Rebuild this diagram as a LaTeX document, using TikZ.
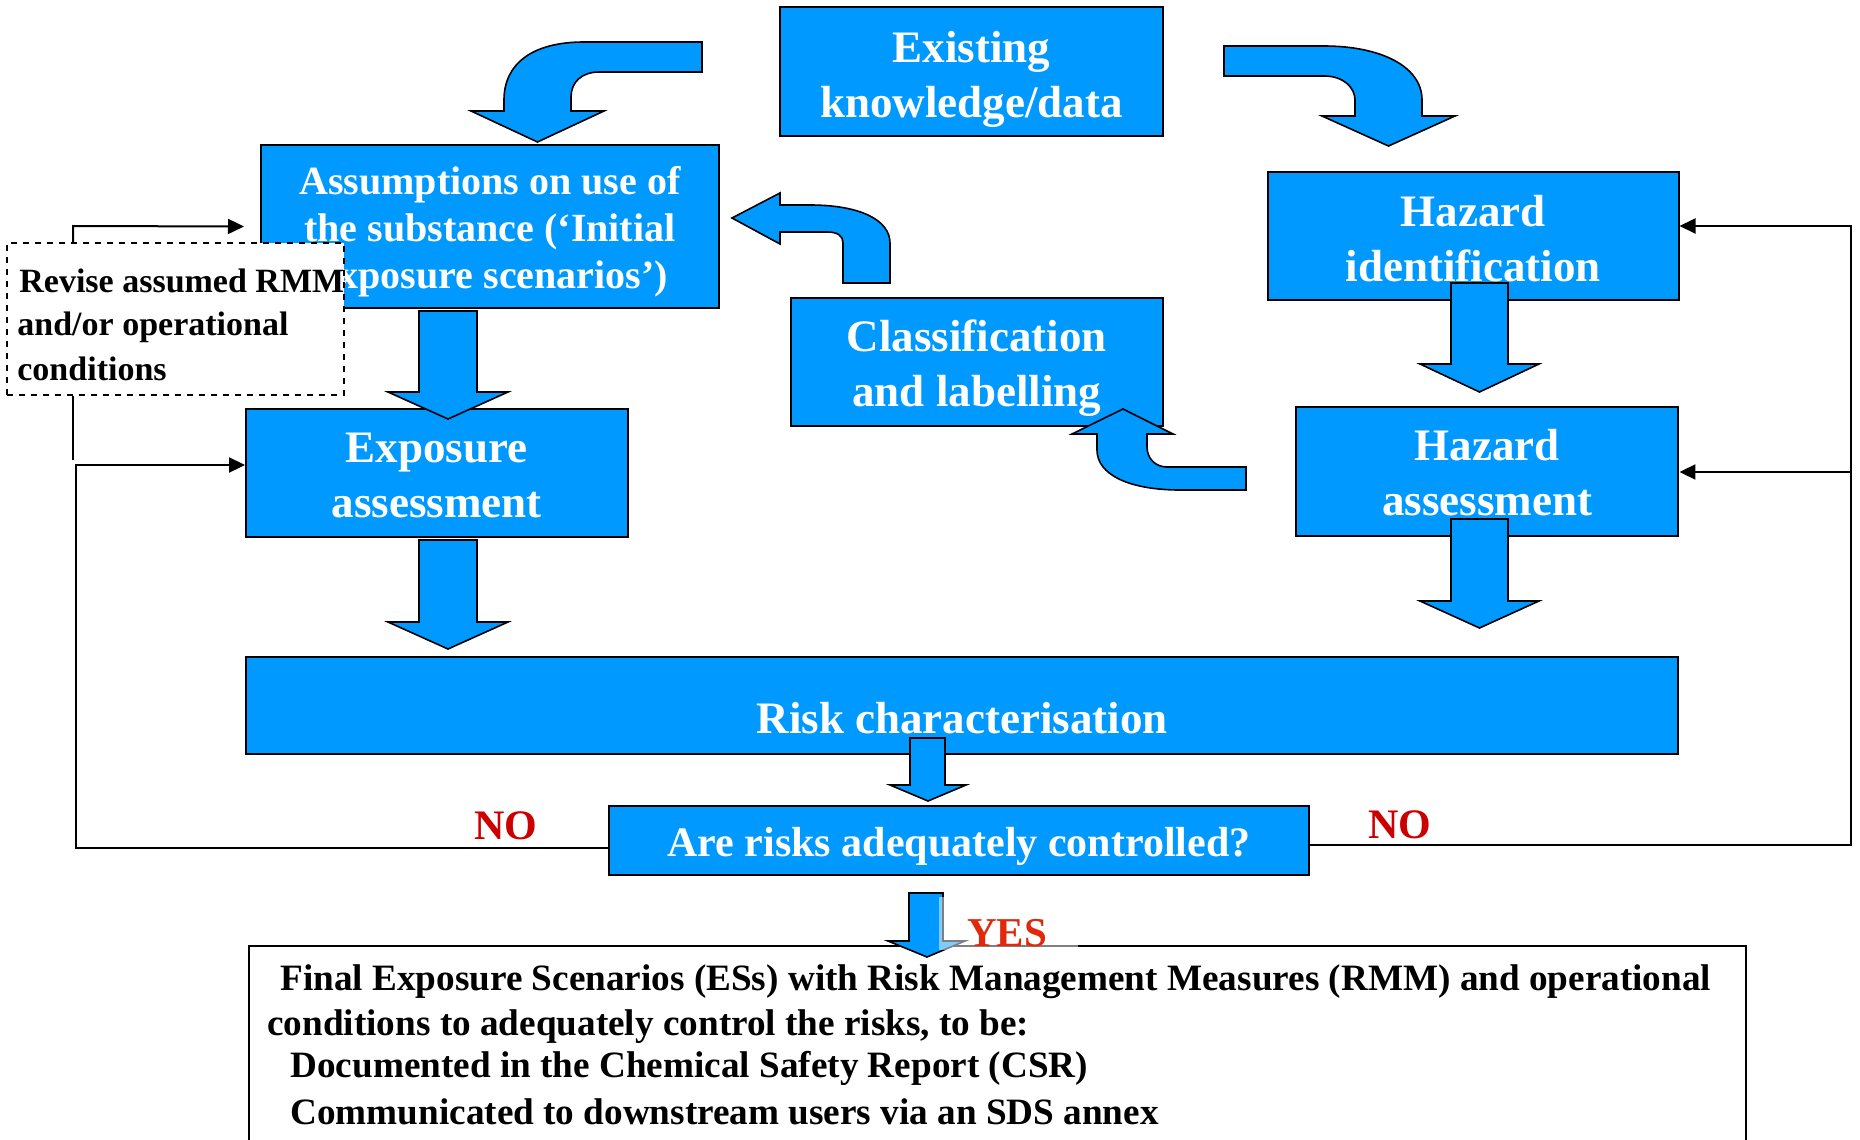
\documentclass[tikz,border=0pt]{standalone}
\usepackage{fontspec}
\setmainfont{Liberation Serif}
\usetikzlibrary{arrows.meta}
\definecolor{boxblue}{HTML}{0099FF}
\definecolor{nored}{HTML}{CC0000}
\definecolor{yesred}{HTML}{E0280C}

\begin{document}
\begin{tikzpicture}
[every node/.style={inner sep=0pt},
 box/.style={rectangle, fill=boxblue, draw=black, line width=1pt, align=center, text=white},
 boxlbl/.style={align=center, text=white},
 bigtxt/.style={font=\fontsize{22.5}{27.5}\selectfont\bfseries},
 revtxt/.style={font=\fontsize{17}{22}\selectfont\bfseries, anchor=base west},
 fintxt/.style={font=\fontsize{18.6}{22}\selectfont\bfseries, anchor=base west},
 blk/.style={fill=boxblue, draw=black, line width=0.8pt, line join=miter},
 fb/.style={line width=1pt, color=black},
 fbarrow/.style={fb, -{Triangle[length=8pt, width=7.5pt]}}]
\useasboundingbox (0pt, 0pt) rectangle (930pt, -570pt);
\clip (0pt, 0pt) rectangle (930pt, -570pt);
\node (exist) [box, minimum width=191.5pt, minimum height=64.5pt, label={[boxlbl, bigtxt, yshift=-4pt]center:{Existing\\knowledge/data}}] at (485.75pt, -35.75pt) {};
\node (assum) [box, minimum width=229pt, minimum height=81.5pt, label={[boxlbl, font=\fontsize{20}{23.5}\selectfont\bfseries, yshift=-2.4pt]center:{Assumptions on use of\\the substance (‘Initial\\Exposure scenarios’)}}] at (245pt, -113.25pt) {};
\node (hazid) [box, minimum width=205.5pt, minimum height=64pt, label={[boxlbl, bigtxt, yshift=-1.2pt]center:{Hazard\\identification}}] at (736.5pt, -118pt) {};
\node (classif) [box, minimum width=186.2pt, minimum height=64pt, label={[boxlbl, bigtxt, yshift=-3pt]center:{Classification\\and labelling}}] at (488.4pt, -181pt) {};
\node (expo) [box, minimum width=190.75pt, minimum height=64pt, label={[boxlbl, bigtxt, yshift=-1.2pt]center:{Exposure\\assessment}}] at (218.4pt, -236.5pt) {};
\node (hazas) [box, minimum width=191.25pt, minimum height=64.5pt, label={[boxlbl, bigtxt, yshift=-0.6pt]center:{Hazard\\assessment}}] at (743.6pt, -235.75pt) {};
\node (risk) [box, bigtxt, minimum width=716.25pt, minimum height=48.5pt, text height=32.5pt, text depth=5pt] at (481.1pt, -352.75pt) {Risk characterisation};
\node (are) [box, minimum width=350pt, minimum height=34.5pt, label={[boxlbl, font=\fontsize{21}{25}\selectfont\bfseries, yshift=-3pt]center:{Are risks adequately controlled?}}] at (479.5pt, -420.25pt) {};
% revise box sits over the assumptions box
\node (revise) [draw=black, dashed, fill=white, line width=0.6pt, minimum width=168.5pt, minimum height=76pt] at (87.75pt, -159.5pt) {};
\node (rev1) [revtxt] at (9.5pt, -146pt) {Revise assumed RMM};
\node (rev2) [revtxt] at (8.5pt, -167.5pt) {and/or operational};
\node (rev3) [revtxt] at (8.5pt, -190pt) {conditions};
% final box
\node (final) [draw=black, line width=1pt, minimum width=748.5pt, minimum height=130pt, anchor=north] at (498.75pt, -472.5pt) {};
\node (fin1) [fintxt] at (140pt, -495pt) {Final Exposure Scenarios (ESs) with Risk Management Measures (RMM) and operational};
\node (fin2) [fintxt] at (133.5pt, -517.5pt) {conditions to adequately control the risks, to be:};
\node (fin3) [fintxt] at (145pt, -538.5pt) {Documented in the Chemical Safety Report (CSR)};
\node (fin4) [fintxt] at (145pt, -562pt) {Communicated to downstream users via an SDS annex};
% bent arrows
\draw [blk] (351pt, -21pt) -- (292pt, -21pt) .. controls (266pt, -21pt) and (252pt, -32pt) .. (252pt, -50pt) -- (252pt, -55.5pt) -- (235.5pt, -55.5pt) -- (268.75pt, -71pt) -- (302pt, -55.5pt) -- (285.5pt, -55.5pt) -- (285.5pt, -48.5pt) .. controls (285.5pt, -41pt) and (291pt, -36pt) .. (299.5pt, -36pt) -- (351pt, -36pt) -- cycle;
\draw [blk] (612pt, -23pt) -- (662pt, -23pt) .. controls (690pt, -23pt) and (711pt, -33pt) .. (711pt, -50pt) -- (711pt, -58pt) -- (727.5pt, -58pt) -- (694.25pt, -73pt) -- (661pt, -58pt) -- (677.5pt, -58pt) -- (677.5pt, -50pt) .. controls (677.5pt, -44pt) and (672pt, -38pt) .. (662pt, -38pt) -- (612pt, -38pt) -- cycle;
\draw [blk] (366pt, -109pt) -- (390pt, -96.5pt) -- (390pt, -102.5pt) -- (405pt, -102.5pt) .. controls (430pt, -102.5pt) and (445pt, -110pt) .. (445pt, -121.5pt) -- (445pt, -141.5pt) -- (421.5pt, -141.5pt) -- (421.5pt, -121.5pt) .. controls (421.5pt, -118pt) and (419pt, -116pt) .. (413.5pt, -116pt) -- (390pt, -116pt) -- (390pt, -122pt) -- cycle;
\draw [blk] (561.5pt, -204.5pt) -- (586.5pt, -217pt) -- (573.5pt, -217pt) -- (573.5pt, -223.5pt) .. controls (573.5pt, -229pt) and (577.5pt, -233.5pt) .. (583.5pt, -233.5pt) -- (623pt, -233.5pt) -- (623pt, -245pt) -- (590pt, -245pt) .. controls (565pt, -245pt) and (548.5pt, -237.5pt) .. (548.5pt, -225pt) -- (548.5pt, -217pt) -- (536pt, -217pt) -- cycle;
% straight arrows
\draw [blk] (209.5pt, -155.5pt) -- (209.5pt, -196pt) -- (194pt, -196pt) -- (224pt, -209.5pt) -- (254pt, -196pt) -- (238.5pt, -196pt) -- (238.5pt, -155.5pt) -- cycle;
\draw [blk] (209.5pt, -270pt) -- (209.5pt, -311pt) -- (194pt, -311pt) -- (224pt, -324.5pt) -- (254pt, -311pt) -- (238.5pt, -311pt) -- (238.5pt, -270pt) -- cycle;
\draw [blk] (725.5pt, -141.5pt) -- (725.5pt, -182pt) -- (710pt, -182pt) -- (739.75pt, -196pt) -- (769.5pt, -182pt) -- (754pt, -182pt) -- (754pt, -141.5pt) -- cycle;
\draw [blk] (725.5pt, -259.5pt) -- (725.5pt, -300.5pt) -- (710pt, -300.5pt) -- (739.75pt, -314pt) -- (769.5pt, -300.5pt) -- (754pt, -300.5pt) -- (754pt, -259.5pt) -- cycle;
\draw [blk] (455pt, -369pt) -- (455pt, -392.5pt) -- (445pt, -392.5pt) -- (464pt, -400.5pt) -- (483pt, -392.5pt) -- (472.5pt, -392.5pt) -- (472.5pt, -369pt) -- cycle;
\draw [blk] (454.5pt, -446.5pt) -- (454.5pt, -470.5pt) -- (444pt, -470.5pt) -- (463.5pt, -478.5pt) -- (482.5pt, -470.5pt) -- (471.5pt, -470.5pt) -- (471.5pt, -446.5pt) -- cycle;
\fill [white, opacity=0.5] (469.5pt, -448.5pt) rectangle (539pt, -475pt);
% answers
\node (noleft) [font=\fontsize{21}{25}\selectfont\bfseries, text=nored] at (252.75pt, -413pt) {NO};
\node (noright) [font=\fontsize{21}{25}\selectfont\bfseries, text=nored] at (700pt, -412.5pt) {NO};
\node (yes) [font=\fontsize{20.5}{25}\selectfont\bfseries, text=yesred] at (503.5pt, -466.5pt) {YES};
% feedback lines
\coordinate (lbot) at (38pt, -424pt);
\coordinate (lmid) at (38pt, -232.5pt);
\coordinate (ltop) at (36.5pt, -230pt);
\coordinate (lup) at (36.5pt, -113pt);
\coordinate (rbot) at (925.5pt, -422.5pt);
\coordinate (rtop) at (925.5pt, -113pt);
\coordinate (rmid) at (925.5pt, -236pt);
\draw [fbarrow] ([yshift=-3.75pt]are.west) -- (lbot) -- (lmid) -- (lmid -| expo.west);
\draw [fb] (ltop) -- (ltop |- revise.south);
\draw [fbarrow] (lup |- revise.north) -- (lup) -- ([xshift=-8pt]assum.west);
\draw [fbarrow] ([yshift=-2.25pt]are.east) -- (rbot) -- (rtop) -- (rtop -| hazid.east);
\draw [fbarrow] (rmid) -- (rmid -| hazas.east);
\end{tikzpicture}
\end{document}
